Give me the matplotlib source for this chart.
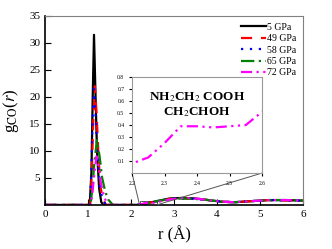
import matplotlib.pyplot as plt
from mpl_toolkits.axes_grid1.inset_locator import mark_inset

plt.rcParams['font.family'] = ['Liberation Serif', 'DejaVu Serif']
plt.rcParams['mathtext.fontset'] = 'stix'

# ---- data ----
labels = ["5 GPa", "49 GPa", "58 GPa", "65 GPa", "72 GPa"]
colors = ["black", "red", "blue", "green", "magenta"]

r_5 = [0, 1.04, 1.08, 1.11, 1.14, 1.17, 1.21, 1.26, 1.31, 1.36, 2.0, 2.15, 2.3, 2.6, 2.9, 3.2, 3.5, 3.8, 4.1, 4.4, 4.8, 5.2, 5.6, 6.0]
g_5 = [0, 0, 6, 20, 31.5, 22, 10, 3, 0.5, 0, 0, 0, 0.2, 0.7, 1.2, 1.3, 1.2, 0.9, 0.6, 0.5, 0.7, 0.9, 0.9, 0.8]

r_49 = [0, 1.05, 1.09, 1.12, 1.16, 1.2, 1.25, 1.3, 1.35, 1.42, 2.0, 2.15, 2.3, 2.6, 2.9, 3.2, 3.5, 3.8, 4.1, 4.4, 4.8, 5.2, 5.6, 6.0]
g_49 = [0, 0, 6, 15, 22, 17, 8, 3, 1, 0, 0, 0, 0.2, 0.7, 1.1, 1.2, 1.1, 0.9, 0.6, 0.5, 0.7, 0.9, 0.8, 0.8]

r_58 = [0, 1.05, 1.08, 1.11, 1.14, 1.18, 1.23, 1.28, 1.34, 1.42, 2.0, 2.15, 2.3, 2.6, 2.9, 3.2, 3.5, 3.8, 4.1, 4.4, 4.8, 5.2, 5.6, 6.0]
g_58 = [0, 0, 7, 17, 21.5, 16, 8, 3, 1, 0, 0, 0, 0.2, 0.7, 1.1, 1.2, 1.1, 0.9, 0.6, 0.5, 0.7, 0.9, 0.8, 0.8]

r_65 = [0, 1.06, 1.1, 1.15, 1.21, 1.27, 1.33, 1.4, 1.47, 1.58, 2.0, 2.15, 2.3, 2.6, 2.9, 3.2, 3.5, 3.8, 4.1, 4.4, 4.8, 5.2, 5.6, 6.0]
g_65 = [0, 0, 3, 8, 12, 9, 5, 2.5, 1, 0, 0, 0, 0.2, 0.7, 1.1, 1.2, 1.1, 0.9, 0.6, 0.5, 0.7, 0.9, 0.9, 0.8]

r_72 = [0, 1.06, 1.1, 1.15, 1.2, 1.25, 1.3, 1.36, 1.42, 1.5, 2.0, 2.2, 2.25, 2.3, 2.35, 2.4, 2.45, 2.5, 2.55, 2.6, 2.9, 3.2, 3.5, 3.8, 4.1, 4.4, 4.8, 5.2, 5.6, 6.0]
g_72 = [0, 0, 2, 6, 9, 7, 4, 2, 0.6, 0, 0, 0.08, 0.13, 0.25, 0.39, 0.39, 0.38, 0.39, 0.40, 0.51, 1.0, 1.3, 1.2, 0.9, 0.6, 0.5, 0.7, 0.9, 0.9, 0.8]

curves = [(r_5, g_5), (r_49, g_49), (r_58, g_58), (r_65, g_65), (r_72, g_72)]
styles = ['-', (0, (5, 4)), (0, (1, 3)), (0, (6, 2, 1, 2)), (0, (5, 2, 1, 2, 1, 2))]

fig = plt.figure(figsize=(3.32, 2.49), dpi=100)
ax = fig.add_axes([0.1355, 0.177, 0.777, 0.759])

for (r, g), c, ls, lab in zip(curves, colors, styles, labels):
    ax.plot(r, g, color=c, linestyle=ls, lw=1.6, label=lab)

ax.set_xlim(0, 6)
ax.set_ylim(0, 35)
ax.set_xticks(range(0, 7))
ax.set_yticks([5, 10, 15, 20, 25, 30, 35])
ax.tick_params(direction='in', labelsize=8, length=4)
ax.spines['top'].set_color('gray')
ax.spines['right'].set_color('gray')
ax.spines['left'].set_linewidth(1.2)
ax.spines['bottom'].set_linewidth(1.2)
ax.set_xlabel("r (Å)", fontsize=12, labelpad=5)
ax.set_ylabel(r"g$_{\rm CO}$($r$)", fontsize=12, labelpad=6)

ax.legend(loc='upper right', frameon=False, fontsize=7, handlelength=2.6,
          handletextpad=0.1, labelspacing=0.25, borderaxespad=0.3)

# ---- inset zoom (only the 72 GPa curve shows there) ----
axins = fig.add_axes([0.3976, 0.305, 0.3916, 0.3855])
axins.plot(r_72, g_72, color=colors[4], linestyle=styles[4], lw=1.6)
axins.set_xlim(2.2, 2.6)
axins.set_ylim(0, 0.8)
axins.set_xticks([2.2, 2.3, 2.4, 2.5, 2.6])
axins.set_yticks([0.1, 0.2, 0.3, 0.4, 0.5, 0.6, 0.7, 0.8])
axins.tick_params(labelsize=4, length=2, direction='out')
for s in axins.spines.values():
    s.set_color('#999999')
axins.text(0.5, 0.86, "NH$_2$CH$_2$ COOH\nCH$_2$CHOH", transform=axins.transAxes,
           ha='center', va='top', fontsize=9.5, fontweight='bold', linespacing=1.1)

mark_inset(ax, axins, loc1=3, loc2=4, fc='none', ec='#555555', lw=0.7)

plt.savefig("out.png", dpi=100)
